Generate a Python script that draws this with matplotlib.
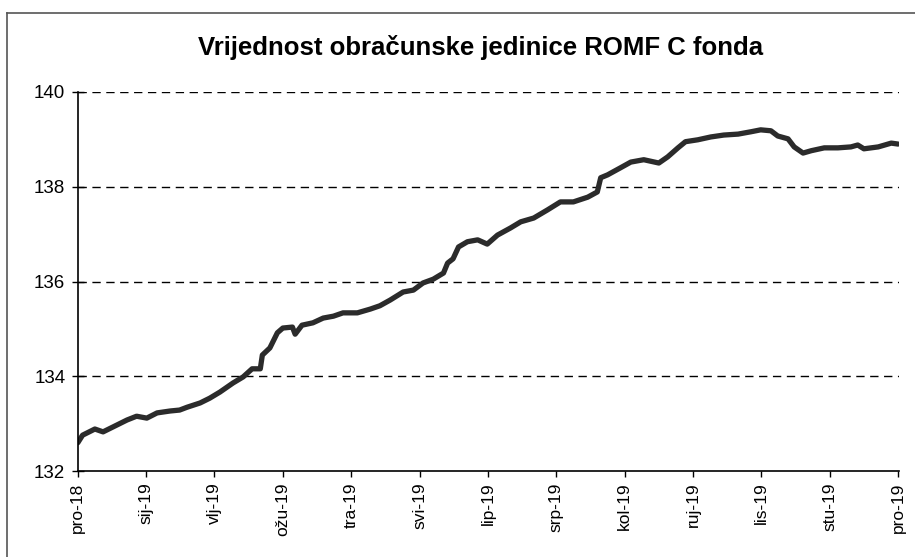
import matplotlib
matplotlib.use("Agg")
import matplotlib.pyplot as plt
from matplotlib.lines import Line2D

plt.rcParams['font.family'] = ['Liberation Sans', 'DejaVu Sans']

# polozaj u mjesecima od pro-18 (0) do pro-19 (12), vrijednost obracunske jedinice
mjesec = [0.00, 0.07, 0.25, 0.37, 0.51, 0.72, 0.86, 1.01, 1.16, 1.35, 1.49, 1.60,
          1.79, 1.93, 2.08, 2.27, 2.42, 2.55, 2.67, 2.70, 2.81, 2.92, 3.00, 3.14,
          3.18, 3.28, 3.44, 3.59, 3.74, 3.88, 4.09, 4.28, 4.42, 4.57, 4.76, 4.91,
          5.05, 5.20, 5.35, 5.41, 5.49, 5.57, 5.70, 5.85, 5.99, 6.14, 6.33, 6.48,
          6.67, 6.87, 7.06, 7.25, 7.46, 7.60, 7.65, 7.75, 7.94, 8.09, 8.28, 8.50,
          8.63, 8.78, 8.89, 9.07, 9.26, 9.45, 9.66, 9.85, 9.99, 10.14, 10.24, 10.39,
          10.48, 10.61, 10.73, 10.92, 11.12, 11.31, 11.41, 11.50, 11.71, 11.90, 12.00]
vrijednost = [132.60, 132.76, 132.89, 132.83, 132.93, 133.08, 133.16, 133.12, 133.23, 133.27, 133.29, 133.35,
              133.44, 133.54, 133.67, 133.86, 133.99, 134.16, 134.16, 134.45, 134.60, 134.92, 135.02, 135.04,
              134.89, 135.08, 135.13, 135.23, 135.27, 135.34, 135.34, 135.42, 135.49, 135.61, 135.78, 135.82,
              135.97, 136.05, 136.18, 136.39, 136.48, 136.73, 136.84, 136.88, 136.79, 136.98, 137.13, 137.26,
              137.34, 137.51, 137.68, 137.68, 137.78, 137.89, 138.19, 138.25, 138.40, 138.52, 138.57, 138.50,
              138.63, 138.82, 138.95, 138.99, 139.05, 139.09, 139.11, 139.16, 139.20, 139.18, 139.07, 139.01,
              138.84, 138.71, 138.76, 138.82, 138.82, 138.84, 138.88, 138.80, 138.84, 138.92, 138.90]

oznake = ['pro-18', 'sij-19', 'vlj-19', 'ožu-19', 'tra-19', 'svi-19', 'lip-19',
          'srp-19', 'kol-19', 'ruj-19', 'lis-19', 'stu-19', 'pro-19']
y_ticks = [132, 134, 136, 138, 140]

fig = plt.figure(figsize=(9.15, 5.57), dpi=100)
ax = fig.add_axes([0.085, 0.154, 0.898, 0.681])

ax.plot(mjesec, vrijednost, color='#2b2b2b', linewidth=3.8, solid_capstyle='round')

ax.set_xlim(0, 12.02)
ax.set_ylim(132, 140)
ax.set_xticks(range(len(oznake)))
ax.set_xticklabels(oznake, rotation=90, fontsize=12.5)
ax.set_yticks(y_ticks)
ax.set_yticklabels([str(v) for v in y_ticks], fontsize=13.5)

for v in y_ticks[1:]:
    ax.axhline(v, color='black', linestyle=(0, (6, 4)), linewidth=1.0, zorder=0)

ax.spines['top'].set_visible(False)
ax.spines['right'].set_visible(False)
ax.spines['left'].set_linewidth(1.2)
ax.spines['bottom'].set_linewidth(1.2)
ax.tick_params(axis='y', direction='inout', length=8, width=1, pad=5)
ax.tick_params(axis='x', direction='out', length=4, width=1, pad=4)

fig.text(0.525, 0.915, 'Vrijednost obračunske jedinice ROMF C fonda',
         ha='center', va='center', fontsize=18.5, fontweight='bold')

# okvir skeniranog grafikona
fig.add_artist(Line2D([0.008, 1.0], [0.977, 0.977], color='#555555', linewidth=1.2))
fig.add_artist(Line2D([0.008, 0.008], [0.0, 0.977], color='#555555', linewidth=1.2))

fig.savefig('out.png', dpi=100)
